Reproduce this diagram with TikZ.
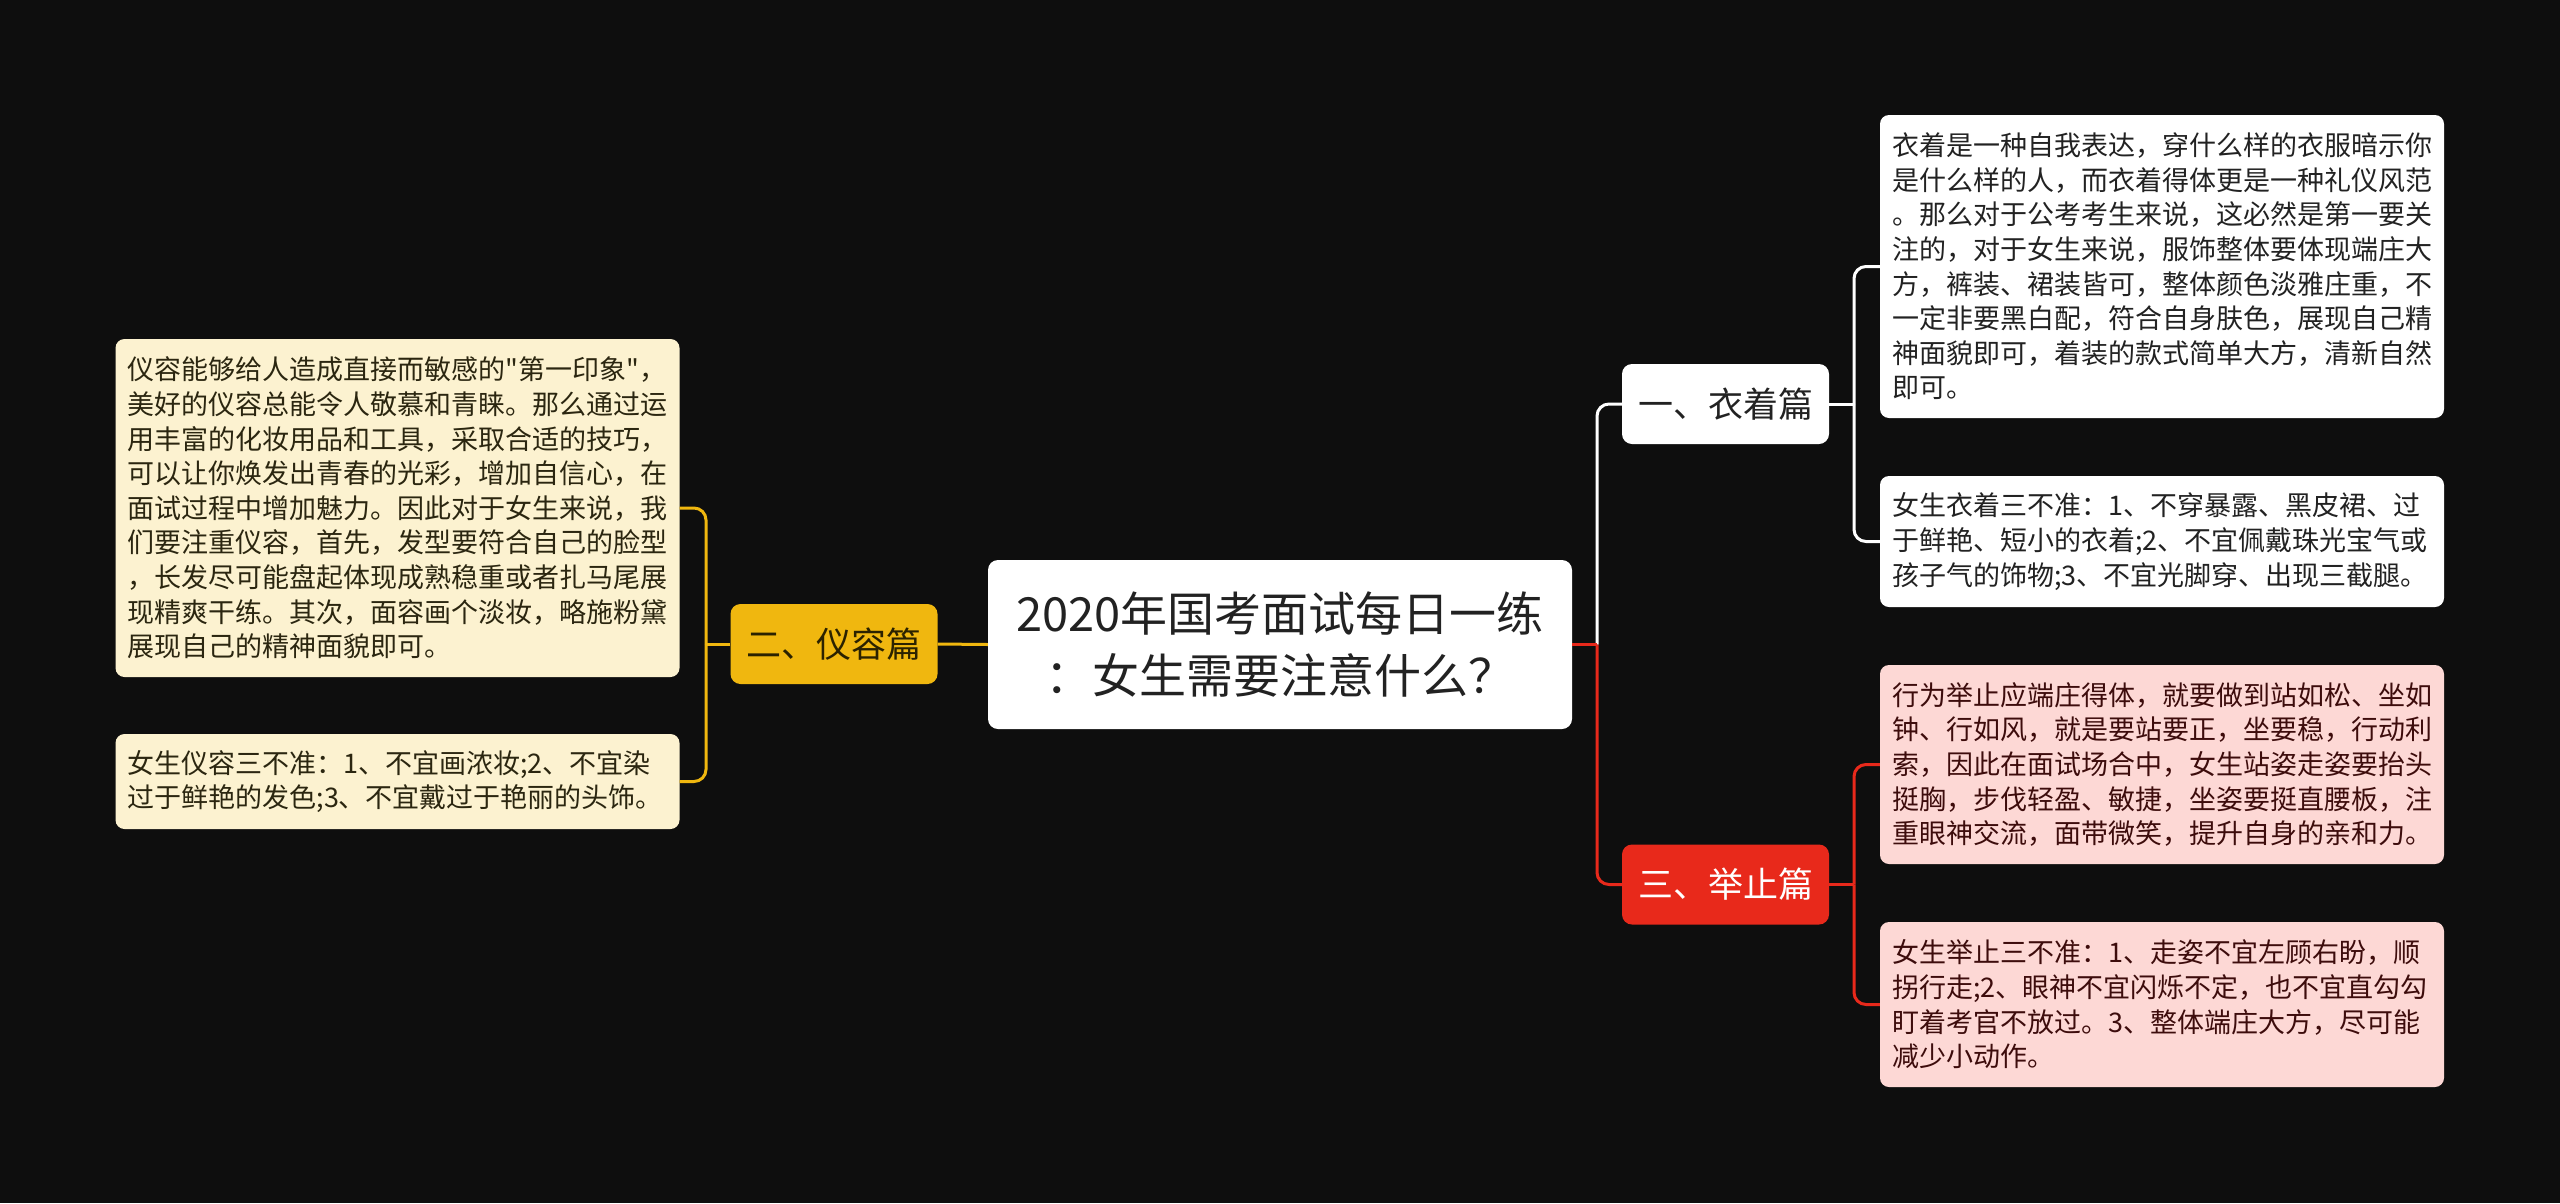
\documentclass[tikz,border=0pt]{standalone}
\usepackage{fontspec}
\newfontfamily\cjk{Noto Sans CJK SC}
\usetikzlibrary{calc}
\definecolor{bg}{HTML}{0E0E0E}
\definecolor{goldc}{HTML}{F0B70F}
\definecolor{redc}{HTML}{E8291B}
\definecolor{creamc}{HTML}{FCF2D0}
\definecolor{pinkc}{HTML}{FDD8D5}
\definecolor{darktxt}{HTML}{222222}
\definecolor{browntxt}{HTML}{2B2610}
\definecolor{redtxt}{HTML}{3D0C0C}
\definecolor{goldtxt}{HTML}{2B2200}
\begin{document}
\begin{tikzpicture}[x=1pt,y=-1pt,
  rootbox/.style={fill=white, rounded corners=10pt, minimum width=584pt, minimum height=169pt,
    inner sep=0pt, align=center, text=darktxt, font=\cjk\fontsize{47pt}{62pt}\selectfont},
  topicbox/.style={rounded corners=10pt, minimum width=207pt, minimum height=80pt,
    inner sep=0pt, align=center, font=\cjk\fontsize{35pt}{42pt}\selectfont},
  detailbox/.style={rounded corners=9pt, text width=540pt, inner xsep=12pt, inner ysep=0pt,
    align=left, font=\cjk\fontsize{27pt}{34.6pt}\selectfont},
  wline/.style={draw=white, line width=3pt, rounded corners=12pt},
  rline/.style={draw=redc, line width=3pt, rounded corners=12pt},
  yline/.style={draw=goldc, line width=3pt, rounded corners=12pt}
]
\fill[bg] (0,0) rectangle (2560,1203);
\useasboundingbox (0,0) rectangle (2560,1203);

% root
\node[rootbox] (root) at (1280,644.5) {2020年国考面试每日一练\\：女生需要注意什么？};

% topics
\node[topicbox, fill=white, text=darktxt] (t1) at (1725.5,404) {一、衣着篇};
\node[topicbox, fill=redc, text=white] (t3) at (1725.5,884.5) {三、举止篇};
\node[topicbox, fill=goldc, text=goldtxt] (t2) at (834,644) {二、仪容篇};

% right details
\node[detailbox, fill=white, text=darktxt, minimum height=303pt] (r1) at (2162,266.5) {衣着是一种自我表达，穿什么样的衣服暗示你\\是什么样的人，而衣着得体更是一种礼仪风范\\。那么对于公考考生来说，这必然是第一要关\\注的，对于女生来说，服饰整体要体现端庄大\\方，裤装、裙装皆可，整体颜色淡雅庄重，不\\一定非要黑白配，符合自身肤色，展现自己精\\神面貌即可，着装的款式简单大方，清新自然\\即可。};
\node[detailbox, fill=white, text=darktxt, minimum height=131pt] (r2) at (2162,541.5) {女生衣着三不准：1、不穿暴露、黑皮裙、过\\于鲜艳、短小的衣着;2、不宜佩戴珠光宝气或\\孩子气的饰物;3、不宜光脚穿、出现三截腿。};
\node[detailbox, fill=pinkc, text=redtxt, minimum height=199pt] (r3) at (2162,764.5) {行为举止应端庄得体，就要做到站如松、坐如\\钟、行如风，就是要站要正，坐要稳，行动利\\索，因此在面试场合中，女生站姿走姿要抬头\\挺胸，步伐轻盈、敏捷，坐姿要挺直腰板，注\\重眼神交流，面带微笑，提升自身的亲和力。};
\node[detailbox, fill=pinkc, text=redtxt, minimum height=165pt] (r4) at (2162,1004.5) {女生举止三不准：1、走姿不宜左顾右盼，顺\\拐行走;2、眼神不宜闪烁不定，也不宜直勾勾\\盯着考官不放过。3、整体端庄大方，尽可能\\减少小动作。};

% left details
\node[detailbox, fill=creamc, text=browntxt, minimum height=338pt] (l1) at (397.5,508) {仪容能够给人造成直接而敏感的"第一印象"，\\美好的仪容总能令人敬慕和青睐。那么通过运\\用丰富的化妆用品和工具，采取合适的技巧，\\可以让你焕发出青春的光彩，增加自信心，在\\面试过程中增加魅力。因此对于女生来说，我\\们要注重仪容，首先，发型要符合自己的脸型\\，长发尽可能盘起体现成熟稳重或者扎马尾展\\现精爽干练。其次，面容画个淡妆，略施粉黛\\展现自己的精神面貌即可。};
\node[detailbox, fill=creamc, text=browntxt, minimum height=95pt] (l2) at (397.5,781.5) {女生仪容三不准：1、不宜画浓妆;2、不宜染\\过于鲜艳的发色;3、不宜戴过于艳丽的头饰。};

% fork coordinates
\coordinate (fk) at (1597,644.5);
\coordinate (fk1) at (1854,404);
\coordinate (fk3) at (1854,884.5);
\coordinate (fk2) at (706,644);

% connectors
\draw[wline] (fk) |- (t1.west);
\draw[rline, rounded corners=0pt] (root.east) -- (fk);
\draw[rline] (fk) |- (t3.west);
\draw[yline] (root.west) -- (t2.east);

\draw[wline] (t1.east) -- (fk1);
\draw[wline] (fk1) |- (r1.west);
\draw[wline] (fk1) |- (r2.west);

\draw[rline] (t3.east) -- (fk3);
\draw[rline] (fk3) |- (r3.west);
\draw[rline] (fk3) |- (r4.west);

\draw[yline] (t2.west) -- (fk2);
\draw[yline] (fk2) |- (l1.east);
\draw[yline] (fk2) |- (l2.east);
\end{tikzpicture}
\end{document}
